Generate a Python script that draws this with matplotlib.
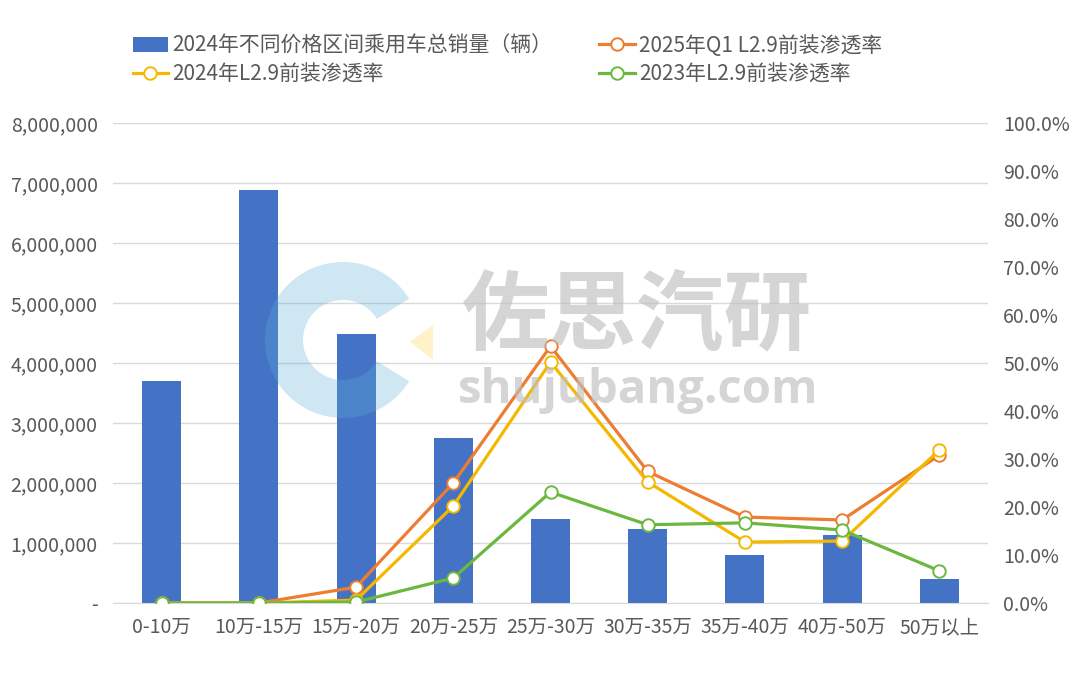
import numpy as np
import matplotlib as mpl
import matplotlib.pyplot as plt
from matplotlib.patches import Wedge, Polygon
from matplotlib.ticker import FuncFormatter, MultipleLocator

mpl.use('AGG')
plt.rcParams['font.family'] = ['Noto Sans CJK SC', 'DejaVu Sans']

# ---- data -------------------------------------------------------------------
categories = ['0-10万', '10万-15万', '15万-20万', '20万-25万', '25万-30万',
	'30万-35万', '35万-40万', '40万-50万', '50万以上']
sales_2024 = [3700000, 6880000, 4480000, 2750000, 1400000,
	1230000, 800000, 1130000, 400000]
rate_2025q1 = [0.0, 0.0, 3.3, 25.0, 53.5, 27.4, 17.9, 17.3, 30.8]
rate_2024 = [0.0, 0.0, 0.6, 20.2, 50.2, 25.2, 12.7, 12.9, 31.9]
rate_2023 = [0.0, 0.0, 0.2, 5.2, 23.1, 16.3, 16.7, 15.2, 6.7]

label_bar = '2024年不同价格区间乘用车总销量（辆）'
label_2025 = '2025年Q1 L2.9前装渗透率'
label_2024 = '2024年L2.9前装渗透率'
label_2023 = '2023年L2.9前装渗透率'

text_color = '#595959'
grid_color = '#d9d9d9'

# ---- figure -----------------------------------------------------------------
fig = plt.figure(figsize=(10.8, 6.86), dpi=100, facecolor='white')
ax1 = fig.add_axes([113 / 1080, 1 - 603 / 686, 875 / 1080, 480 / 686])
ax2 = ax1.twinx()

x = np.arange(len(categories))
bars = ax1.bar(x, sales_2024, width=0.4, color='#4472c4', zorder=2, label=label_bar)

ax1.set_xlim(-0.5, len(categories) - 0.5)
ax1.set_ylim(0, 8000000)
ax1.yaxis.set_major_locator(MultipleLocator(1000000))
ax1.yaxis.set_major_formatter(FuncFormatter(lambda v, p: '-' if v == 0 else f'{v:,.0f}'))
ax1.grid(axis='y', color=grid_color, linewidth=1.0, zorder=0)
ax1.set_axisbelow(True)
ax1.set_xticks(x)
ax1.set_xticklabels(categories)

line_styles = [
	(rate_2025q1, '#ed7d31', label_2025),
	(rate_2024, '#f5b800', label_2024),
	(rate_2023, '#6cb83f', label_2023),
]
handles = {}
for (vals, color, lab) in line_styles:
	(h,) = ax2.plot(x, vals, color=color, linewidth=2.3, marker='o', markersize=9,
		markerfacecolor='white', markeredgecolor=color, markeredgewidth=1.4, label=lab)
	handles[lab] = h

ax2.set_ylim(0, 100)
ax2.yaxis.set_major_locator(MultipleLocator(10))
ax2.yaxis.set_major_formatter(FuncFormatter(lambda v, p: f'{v:.1f}%'))

for ax in (ax1, ax2):
	for s in ax.spines.values():
		s.set_visible(False)
	ax.tick_params(length=0, labelsize=14, colors=text_color)
ax1.tick_params(axis='y', pad=11)
ax2.tick_params(axis='y', pad=11)
ax1.tick_params(axis='x', pad=10)
ax1.spines['bottom'].set_visible(True)
ax1.spines['bottom'].set_color(grid_color)

# ---- legend -----------------------------------------------------------------
leg = fig.legend([bars, handles[label_2024], handles[label_2025], handles[label_2023]],
	[label_bar, label_2024, label_2025, label_2023],
	ncol=2, loc='upper left', bbox_to_anchor=(114 / 1080, 1 - 16 / 686),
	frameon=False, fontsize=15, labelcolor=text_color,
	handlelength=1.7, handletextpad=0.2, columnspacing=2.25, labelspacing=0.31)

# ---- watermark --------------------------------------------------------------
wm = fig.add_axes([0, 0, 1, 1], zorder=5)
wm.set_xlim(0, 1080)
wm.set_ylim(686, 0)
wm.axis('off')
wm.patch.set_alpha(0)
wm.add_patch(Wedge((343, 340), 78, 32, 328, width=38, color='#5fb0d9', alpha=0.3, lw=0))
wm.add_patch(Polygon([(410, 342), (433, 325), (433, 360)], closed=True,
	color='#ffd966', alpha=0.35, lw=0))
wm.text(637, 317, '佐思汽研', fontsize=63, fontweight='bold', color='#bfbfbf',
	alpha=0.65, ha='center', va='center')
wm.text(638, 391, 'shujubang.com', fontsize=34, fontweight='bold', color='#bfbfbf',
	alpha=0.65, ha='center', va='center', family='Open Sans')

fig.savefig('out.png', dpi=100)
plt.close()
